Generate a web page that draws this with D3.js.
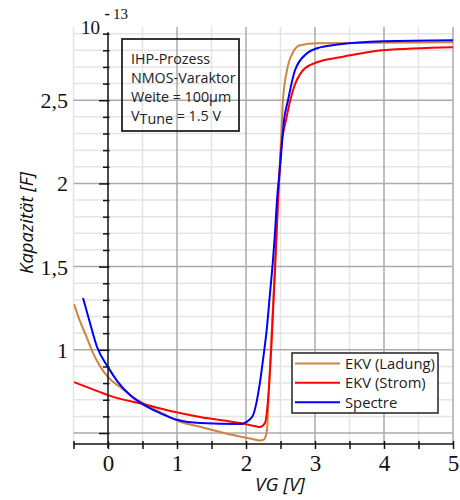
<!DOCTYPE html>
<html><head><meta charset="utf-8">
<script src="https://cdn.jsdelivr.net/npm/d3@7"></script>
<style>body{margin:0;background:#fff}svg{display:block}</style>
</head><body>
<svg id="c" width="460" height="500"></svg>
<script>
// ---- data (C in units of 1e-13 F, VG in V) ----
const seriesNames = ["EKV (Ladung)", "EKV (Strom)", "Spectre"];
const seriesColors = ["#cd853f", "#ff0000", "#0000ff"];

const ladungVG = [-0.493,-0.406,-0.304,-0.217,-0.116,0,0.174,0.362,0.565,0.754,1.043,1.333,1.812,2.058,2.203,2.261,2.304,2.330,2.365,2.417,2.478,2.513,2.536,2.594,2.681,2.783,3.029,3.986,5.0];
const ladungC  = [1.275,1.173,1.071,0.980,0.902,0.836,0.776,0.716,0.668,0.626,0.568,0.538,0.488,0.467,0.455,0.461,0.518,0.740,1.040,1.479,2.000,2.302,2.500,2.680,2.788,2.830,2.842,2.845,2.848];

const stromVG = [-0.493,-0.116,0,0.565,1.043,1.333,1.913,2.13,2.203,2.275,2.319,2.370,2.420,2.464,2.507,2.580,2.681,2.826,3.029,3.362,3.986,5.0];
const stromC  = [0.806,0.746,0.728,0.668,0.620,0.596,0.560,0.542,0.536,0.560,0.698,1.040,1.479,1.899,2.200,2.380,2.560,2.680,2.728,2.758,2.800,2.818];

const spectreVG = [-0.362,-0.261,-0.159,0,0.145,0.319,0.536,0.754,1.014,1.333,1.913,2.087,2.203,2.246,2.304,2.348,2.391,2.420,2.449,2.493,2.551,2.609,2.710,2.884,3.029,3.362,3.986,5.0];
const spectreC  = [1.311,1.161,1.017,0.896,0.806,0.728,0.665,0.620,0.578,0.560,0.554,0.596,0.806,0.938,1.137,1.341,1.539,1.701,1.899,2.097,2.380,2.500,2.680,2.782,2.812,2.836,2.854,2.860];

const xMajorTicks = [0, 1, 2, 3, 4, 5];
const xMajorLabels = ["0", "1", "2", "3", "4", "5"];
const xMinorTicks = [-0.5, 0.5, 1.5, 2.5, 3.5, 4.5];
const yMajorTicks = [0.5, 1, 1.5, 2, 2.5];
const yMajorLabels = ["", "1", "1,5", "2", "2,5"];
const yMinorTicks = [0.6,0.7,0.8,0.9,1.1,1.2,1.3,1.4,1.6,1.7,1.8,1.9,2.1,2.2,2.3,2.4,2.6,2.7,2.8,2.9];
const infoLines = ["IHP-Prozess", "NMOS-Varaktor", "Weite = 100µm"];

(function () {
// ---- layout ----
const svg = d3.select("#c");
const x = d3.scaleLinear().domain([-0.5, 5]).range([73.5, 453]);
const y = d3.scaleLinear().domain([0.434, 2.94]).range([444, 27]);
const pTop = y.range()[1], pBottom = y.range()[0], pLeft = x.range()[0], pRight = x.range()[1];

const sans = "'Open Sans', 'Noto Sans', sans-serif";
const serif = "'Liberation Serif', 'DejaVu Serif', serif";

// grid
const g = svg.append("g");
g.selectAll(".gyMinor").data(yMinorTicks).join("line")
  .attr("x1", pLeft).attr("x2", pRight).attr("y1", d => y(d)).attr("y2", d => y(d))
  .attr("stroke", "#e4e4e4").attr("stroke-width", 1.5);
g.selectAll(".gxMinor").data(xMinorTicks).join("line")
  .attr("x1", d => x(d)).attr("x2", d => x(d)).attr("y1", pTop).attr("y2", pBottom)
  .attr("stroke", "#e4e4e4").attr("stroke-width", 1.5);
g.selectAll(".gyMajor").data(yMajorTicks).join("line")
  .attr("x1", pLeft).attr("x2", pRight).attr("y1", d => y(d)).attr("y2", d => y(d))
  .attr("stroke", "#aaaaaa").attr("stroke-width", 1.5);
g.selectAll(".gxMajor").data(xMajorTicks.filter(d => d !== 0)).join("line")
  .attr("x1", d => x(d)).attr("x2", d => x(d)).attr("y1", pTop).attr("y2", pBottom)
  .attr("stroke", "#aaaaaa").attr("stroke-width", 1.5);

// info box
svg.append("rect").attr("x", 122).attr("y", 39).attr("width", 117).attr("height", 92)
  .attr("fill", "none").attr("stroke", "#222").attr("stroke-width", 1.8);
const info = svg.append("g").attr("font-family", sans).attr("font-size", 14.3).attr("fill", "#222");
infoLines.forEach((t, i) => info.append("text").attr("x", 131).attr("y", 63.5 + i * 19).text(t));
const vt = info.append("text").attr("x", 131).attr("y", 120.5);
vt.append("tspan").text("V");
vt.append("tspan").attr("dy", 3).text("Tune");
vt.append("tspan").attr("dy", -3).text(" = 1.5 V");

// curves
svg.append("clipPath").attr("id", "clip").append("rect")
  .attr("x", pLeft).attr("y", pTop).attr("width", pRight - pLeft).attr("height", pBottom - pTop);
const series = [
  {vg: ladungVG, c: ladungC},
  {vg: stromVG, c: stromC},
  {vg: spectreVG, c: spectreC}
];
const curves = svg.append("g").attr("clip-path", "url(#clip)");
series.forEach((s, i) => {
  const pts = s.vg.map((v, j) => [v, s.c[j]]);
  curves.append("path").datum(pts)
    .attr("fill", "none").attr("stroke", seriesColors[i]).attr("stroke-width", 2)
    .attr("stroke-linejoin", "round")
    .attr("d", d3.line().x(d => x(d[0])).y(d => y(d[1])).curve(d3.curveMonotoneX));
});

// x axis
const xAxis = d3.axisBottom(x).tickValues(xMinorTicks.concat(xMajorTicks))
  .tickFormat(d => { const k = xMajorTicks.indexOf(d); return k >= 0 ? xMajorLabels[k] : ""; })
  .tickSize(5).tickPadding(0);
const gx = svg.append("g").attr("transform", `translate(0,${pBottom})`).call(xAxis);
gx.select(".domain").remove();
gx.selectAll(".tick line").attr("y1", -3).attr("y2", 5).attr("stroke", "#111").attr("stroke-width", 1.5);
gx.selectAll(".tick text").attr("y", 27).attr("dy", 0)
  .attr("font-family", serif).attr("font-size", 23).attr("fill", "#111");
svg.append("line").attr("x1", pLeft).attr("x2", pRight).attr("y1", pBottom).attr("y2", pBottom)
  .attr("stroke", "#111").attr("stroke-width", 1.5);

// y axis
const yAxis = d3.axisLeft(y).tickValues(yMinorTicks.concat(yMajorTicks))
  .tickFormat(d => { const k = yMajorTicks.indexOf(d); return k >= 0 ? yMajorLabels[k] : ""; })
  .tickSize(0).tickPadding(0);
const gy = svg.append("g").attr("transform", `translate(${x(0)},0)`).call(yAxis);
gy.select(".domain").remove();
gy.selectAll(".tick line")
  .attr("x1", d => yMajorTicks.includes(d) ? -9 : -5).attr("x2", 1.5)
  .attr("stroke", "#111").attr("stroke-width", 1.5);
gy.selectAll(".tick text").attr("x", -40).attr("dy", "0.34em")
  .attr("font-family", serif).attr("font-size", 22).attr("fill", "#111");
svg.append("line").attr("x1", x(0)).attr("x2", x(0)).attr("y1", y(2.9) - 1.5).attr("y2", pBottom + 4)
  .attr("stroke", "#111").attr("stroke-width", 1.5);

// exponent
svg.append("text").attr("x", 100).attr("y", 34).attr("text-anchor", "end")
  .attr("font-family", serif).attr("font-size", 19).attr("fill", "#111").text("10");
svg.append("text").attr("x", 104.5).attr("y", 18.5)
  .attr("font-family", serif).attr("font-size", 16).attr("font-weight", "bold").attr("fill", "#111").text("-");
svg.append("text").attr("x", 113).attr("y", 18.5)
  .attr("font-family", serif).attr("font-size", 15).attr("fill", "#111").text("13");

// axis titles
svg.append("text").attr("x", 280).attr("y", 491).attr("text-anchor", "middle")
  .attr("font-family", sans).attr("font-style", "italic").attr("font-size", 19).attr("fill", "#111")
  .text("VG [V]");
svg.append("text").attr("transform", "translate(33,223) rotate(-90)").attr("text-anchor", "middle")
  .attr("font-family", sans).attr("font-style", "italic").attr("font-size", 18.5).attr("fill", "#111")
  .text("Kapazität [F]");

// legend
const lg = svg.append("g");
lg.append("rect").attr("x", 292).attr("y", 353).attr("width", 146).attr("height", 60)
  .attr("fill", "#fff").attr("stroke", "#222").attr("stroke-width", 1.5);
const rowY = [363.5, 382.8, 402.3];
seriesNames.forEach((n, i) => {
  lg.append("line").attr("x1", 295).attr("x2", 340).attr("y1", rowY[i]).attr("y2", rowY[i])
    .attr("stroke", seriesColors[i]).attr("stroke-width", 2);
  lg.append("text").attr("x", 345).attr("y", rowY[i] + 5.2)
    .attr("font-family", sans).attr("font-size", 14.8).attr("fill", "#222").text(n);
});
})();
</script>
</body></html>
